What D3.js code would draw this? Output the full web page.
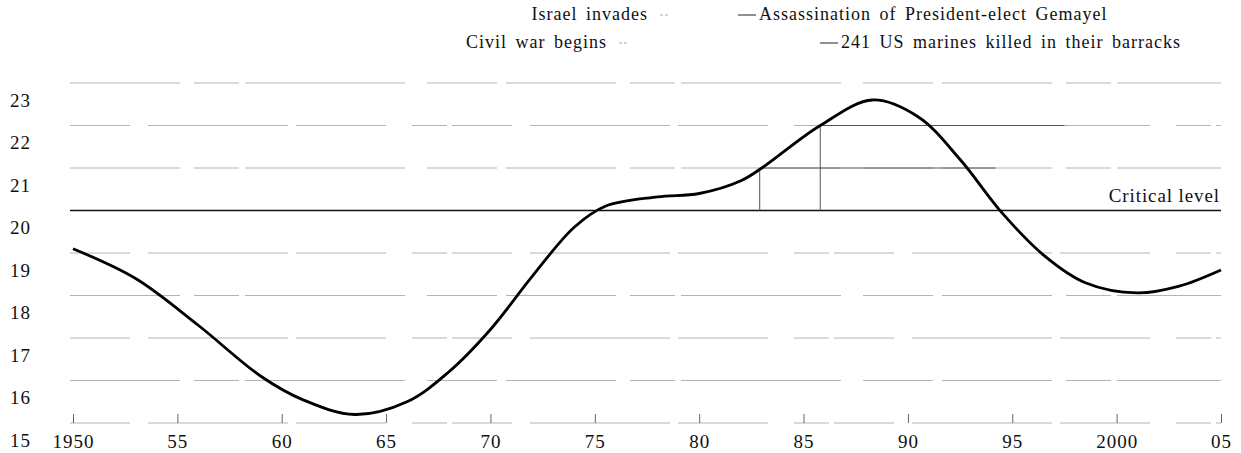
<!DOCTYPE html>
<html>
<head>
<meta charset="utf-8">
<script src="https://cdn.jsdelivr.net/npm/d3@7"></script>
<style>
  body { margin: 0; background: #fff; }
  text { font-family: "Liberation Serif", "DejaVu Serif", serif; fill: #111; }
</style>
</head>
<body>
<div class="chart"></div>
<script>
// chart data
var years = [1950, 1953, 1956, 1959, 1961, 1963.5, 1966, 1968, 1970, 1972, 1974, 1975.5, 1978, 1980,
  1982, 1983, 1985.8, 1988.3, 1990.5, 1992.5, 1994.5, 1996.5, 1998.5, 2001, 2003, 2005];
var values = [19.5, 18.8, 17.7, 16.5, 15.95, 15.6, 15.9, 16.6, 17.6, 18.85, 20.0, 20.5, 20.72, 20.8,
  21.1, 21.4, 22.4, 23.0, 22.6, 21.6, 20.35, 19.35, 18.7, 18.46, 18.62, 19.0];

var xTicks = [1950, 1955, 1960, 1965, 1970, 1975, 1980, 1985, 1990, 1995, 2000, 2005];
var xTickLabels = ["1950", "55", "60", "65", "70", "75", "80", "85", "90", "95", "2000", "05"];
var yTicks = [15, 16, 17, 18, 19, 20, 21, 22, 23];
var gridValues = [15.4, 16.4, 17.4, 18.4, 19.4, 21.4, 22.4, 23.4];
var criticalLevel = 20.4;

var eventYears = [1982.9, 1985.8];
var eventTops = [21.4, 22.4];
var eventEnds = [1994.2, 1997.5];

var svgWidth = 1241;
var svgHeight = 453;

var svg = d3.select(".chart")
  .append("svg")
  .attr("width", svgWidth)
  .attr("height", svgHeight);

var x = d3.scaleLinear().domain([1950, 2005]).range([73, 1221]);
var y = d3.scaleLinear().domain([15, 23]).range([440, 100]);

// broken, scanned-looking gridlines
svg.append("g")
  .selectAll("line")
  .data(gridValues)
  .enter()
  .append("line")
  .attr("x1", x(1950) - 3)
  .attr("x2", x(2005))
  .attr("y1", d => y(d))
  .attr("y2", d => y(d))
  .attr("stroke", "#b4b4b4")
  .attr("stroke-width", 1)
  .attr("stroke-dasharray", (d, i) => i % 2 ? "110,14,45,6,160,22,70,9" : "60,18,140,8,90,26,35,5");

// darker grid segments next to the event lines
svg.append("g")
  .selectAll("line")
  .data(eventYears)
  .enter()
  .append("line")
  .attr("x1", d => x(d))
  .attr("x2", (d, i) => x(eventEnds[i]))
  .attr("y1", (d, i) => y(eventTops[i]))
  .attr("y2", (d, i) => y(eventTops[i]))
  .attr("stroke", "#555")
  .attr("stroke-width", 1);

// critical level
svg.append("line")
  .attr("x1", x(1950) - 3)
  .attr("x2", x(2005))
  .attr("y1", y(criticalLevel))
  .attr("y2", y(criticalLevel))
  .attr("stroke", "#111")
  .attr("stroke-width", 1.3);

svg.append("text")
  .attr("x", x(2005) - 1)
  .attr("y", y(criticalLevel) - 9)
  .attr("text-anchor", "end")
  .style("font-size", "19px")
  .style("letter-spacing", "0.9px")
  .text("Critical level");

// event verticals
svg.append("g")
  .selectAll("line")
  .data(eventYears)
  .enter()
  .append("line")
  .attr("x1", d => x(d))
  .attr("x2", d => x(d))
  .attr("y1", y(criticalLevel))
  .attr("y2", (d, i) => y(eventTops[i]))
  .attr("stroke", "#555")
  .attr("stroke-width", 1);

// x axis: small ticks and labels
var xAxis = d3.axisBottom(x)
  .tickValues(xTicks)
  .tickFormat((d, i) => xTickLabels[i])
  .tickSize(-9)
  .tickPadding(12);

var xg = svg.append("g")
  .attr("transform", `translate(0, ${y(15.4)})`)
  .call(xAxis);
xg.select(".domain").remove();
xg.selectAll(".tick line").attr("stroke", "#666");
xg.selectAll(".tick text")
  .style("font-size", "19px")
  .style("letter-spacing", "1px")
  .attr("fill", "#111");

// y labels
svg.append("g")
  .selectAll("text")
  .data(yTicks)
  .enter()
  .append("text")
  .attr("x", 31)
  .attr("y", d => y(d))
  .attr("dy", "0.35em")
  .attr("text-anchor", "end")
  .style("font-size", "19px")
  .style("letter-spacing", "1px")
  .text(d => d);

// the curve
var line = d3.line()
  .x((d, i) => x(years[i]))
  .y(d => y(d))
  .curve(d3.curveCatmullRom.alpha(0.5));

svg.append("path")
  .datum(values)
  .attr("d", line)
  .attr("fill", "none")
  .attr("stroke", "#000")
  .attr("stroke-width", 2.8);

// header notes
var headerLeft = ["Israel invades", "Civil war begins"];
var headerRight = ["Assassination of President-elect Gemayel", "241 US marines killed in their barracks"];

var leftEnds = [648, 607];
var rightStarts = [738, 820];
var rowY = [20, 48];

headerLeft.forEach(function(t, i) {
  svg.append("text")
    .attr("x", leftEnds[i])
    .attr("y", rowY[i])
    .attr("text-anchor", "end")
    .style("font-size", "18px")
    .style("letter-spacing", "1px")
    .style("word-spacing", "3px")
    .text(t);
  svg.append("line")
    .attr("x1", leftEnds[i] + 12)
    .attr("x2", leftEnds[i] + 22)
    .attr("y1", rowY[i] - 5)
    .attr("y2", rowY[i] - 5)
    .attr("stroke", "#aaa")
    .attr("stroke-dasharray", "3,2");
});

headerRight.forEach(function(t, i) {
  svg.append("line")
    .attr("x1", rightStarts[i])
    .attr("x2", rightStarts[i] + 18)
    .attr("y1", rowY[i] - 5)
    .attr("y2", rowY[i] - 5)
    .attr("stroke", "#222")
    .attr("stroke-width", 1);
  svg.append("text")
    .attr("x", rightStarts[i] + 21)
    .attr("y", rowY[i])
    .style("font-size", "18px")
    .style("letter-spacing", "1px")
    .style("word-spacing", "3px")
    .text(t);
});
</script>
</body>
</html>
